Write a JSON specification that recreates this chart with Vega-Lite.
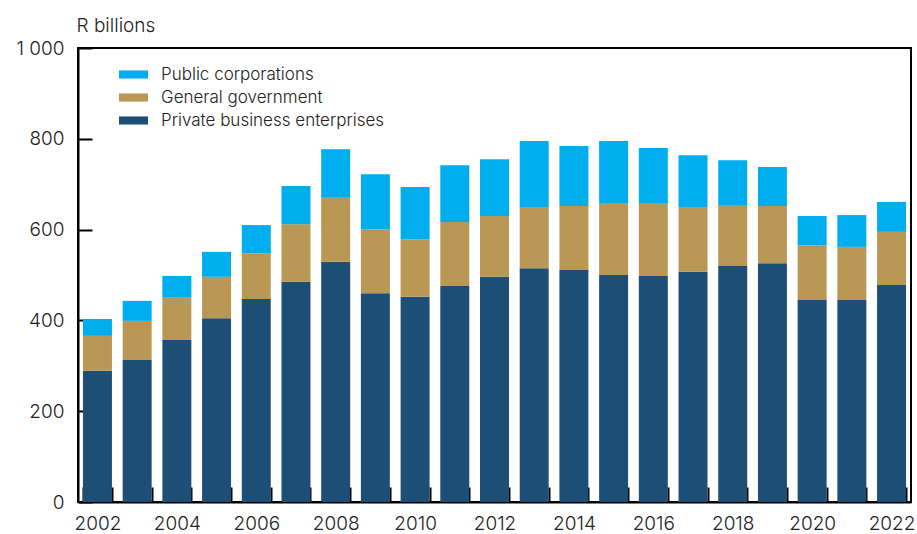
{
  "$schema": "https://vega.github.io/schema/vega-lite/v6.json",
  "width": 833,
  "height": 454,
  "autosize": "none",
  "padding": {"left": 78, "top": 48, "right": 6, "bottom": 32},
  "background": "white",
  "config": {
    "view": {"stroke": "black", "strokeWidth": 2},
    "font": "Inter",
    "axis": {
      "domainColor": "black",
      "domainWidth": 2,
      "tickColor": "black",
      "tickWidth": 2,
      "grid": false,
      "labelFont": "Inter",
      "labelFontSize": 19,
      "labelFontWeight": 300,
      "labelColor": "#222222",
      "titleFont": "Inter"
    }
  },
  "data": {
    "values": [
      {"year": 2002, "series": "Private business enterprises", "value": 289},
      {"year": 2002, "series": "General government", "value": 77},
      {"year": 2002, "series": "Public corporations", "value": 37},
      {"year": 2003, "series": "Private business enterprises", "value": 313},
      {"year": 2003, "series": "General government", "value": 86},
      {"year": 2003, "series": "Public corporations", "value": 44},
      {"year": 2004, "series": "Private business enterprises", "value": 357},
      {"year": 2004, "series": "General government", "value": 93},
      {"year": 2004, "series": "Public corporations", "value": 48},
      {"year": 2005, "series": "Private business enterprises", "value": 405},
      {"year": 2005, "series": "General government", "value": 91},
      {"year": 2005, "series": "Public corporations", "value": 55},
      {"year": 2006, "series": "Private business enterprises", "value": 447},
      {"year": 2006, "series": "General government", "value": 101},
      {"year": 2006, "series": "Public corporations", "value": 62},
      {"year": 2007, "series": "Private business enterprises", "value": 485},
      {"year": 2007, "series": "General government", "value": 127},
      {"year": 2007, "series": "Public corporations", "value": 84},
      {"year": 2008, "series": "Private business enterprises", "value": 529},
      {"year": 2008, "series": "General government", "value": 143},
      {"year": 2008, "series": "Public corporations", "value": 105},
      {"year": 2009, "series": "Private business enterprises", "value": 460},
      {"year": 2009, "series": "General government", "value": 140},
      {"year": 2009, "series": "Public corporations", "value": 122},
      {"year": 2010, "series": "Private business enterprises", "value": 452},
      {"year": 2010, "series": "General government", "value": 126},
      {"year": 2010, "series": "Public corporations", "value": 116},
      {"year": 2011, "series": "Private business enterprises", "value": 476},
      {"year": 2011, "series": "General government", "value": 141},
      {"year": 2011, "series": "Public corporations", "value": 125},
      {"year": 2012, "series": "Private business enterprises", "value": 496},
      {"year": 2012, "series": "General government", "value": 134},
      {"year": 2012, "series": "Public corporations", "value": 125},
      {"year": 2013, "series": "Private business enterprises", "value": 515},
      {"year": 2013, "series": "General government", "value": 135},
      {"year": 2013, "series": "Public corporations", "value": 145},
      {"year": 2014, "series": "Private business enterprises", "value": 511},
      {"year": 2014, "series": "General government", "value": 141},
      {"year": 2014, "series": "Public corporations", "value": 132},
      {"year": 2015, "series": "Private business enterprises", "value": 500},
      {"year": 2015, "series": "General government", "value": 157},
      {"year": 2015, "series": "Public corporations", "value": 138},
      {"year": 2016, "series": "Private business enterprises", "value": 498},
      {"year": 2016, "series": "General government", "value": 159},
      {"year": 2016, "series": "Public corporations", "value": 123},
      {"year": 2017, "series": "Private business enterprises", "value": 507},
      {"year": 2017, "series": "General government", "value": 143},
      {"year": 2017, "series": "Public corporations", "value": 114},
      {"year": 2018, "series": "Private business enterprises", "value": 520},
      {"year": 2018, "series": "General government", "value": 134},
      {"year": 2018, "series": "Public corporations", "value": 99},
      {"year": 2019, "series": "Private business enterprises", "value": 526},
      {"year": 2019, "series": "General government", "value": 126},
      {"year": 2019, "series": "Public corporations", "value": 86},
      {"year": 2020, "series": "Private business enterprises", "value": 445},
      {"year": 2020, "series": "General government", "value": 120},
      {"year": 2020, "series": "Public corporations", "value": 65},
      {"year": 2021, "series": "Private business enterprises", "value": 445},
      {"year": 2021, "series": "General government", "value": 117},
      {"year": 2021, "series": "Public corporations", "value": 70},
      {"year": 2022, "series": "Private business enterprises", "value": 478},
      {"year": 2022, "series": "General government", "value": 117},
      {"year": 2022, "series": "Public corporations", "value": 66}
    ]
  },
  "transform": [
    {"calculate": "indexof(['Private business enterprises','General government','Public corporations'], datum.series)", "as": "stackOrder"}
  ],
  "mark": {"type": "bar"},
  "encoding": {
    "x": {
      "field": "year",
      "type": "ordinal",
      "scale": {"paddingInner": 0.27, "paddingOuter": 0.125},
      "axis": {
        "title": null,
        "labelAngle": 0,
        "tickBand": "extent",
        "tickSize": -15,
        "labelPadding": 27,
        "labelExpr": "datum.value % 2 == 0 ? datum.label : ''"
      }
    },
    "y": {
      "field": "value",
      "type": "quantitative",
      "aggregate": "sum",
      "stack": "zero",
      "scale": {"domain": [0, 1000], "nice": false},
      "axis": {
        "values": [0, 200, 400, 600, 800, 1000],
        "tickSize": -14,
        "labelPadding": 28,
        "labelExpr": "replace(format(datum.value, ',d'), ',', ' ')",
        "title": "R billions",
        "titleAngle": 0,
        "titleAlign": "left",
        "titleBaseline": "alphabetic",
        "titleX": -2,
        "titleY": -17,
        "titleFontSize": 19,
        "titleFontWeight": 300,
        "titleColor": "#222222"
      }
    },
    "color": {
      "field": "series",
      "type": "nominal",
      "scale": {
        "domain": ["Public corporations", "General government", "Private business enterprises"],
        "range": ["#00AEEF", "#B99754", "#1D4F76"]
      },
      "legend": {
        "title": null,
        "orient": "none",
        "legendX": 47,
        "legendY": 18,
        "padding": 0,
        "symbolType": "M-2,-0.56H2V0.56H-2Z",
        "symbolSize": 210,
        "symbolStrokeWidth": 0,
        "labelFontSize": 17,
        "labelFont": "Inter",
        "labelFontWeight": 300,
        "labelColor": "#222222",
        "labelOffset": 19,
        "labelLimit": 400,
        "rowPadding": 5
      }
    },
    "order": {"field": "stackOrder", "type": "quantitative"}
  }
}
